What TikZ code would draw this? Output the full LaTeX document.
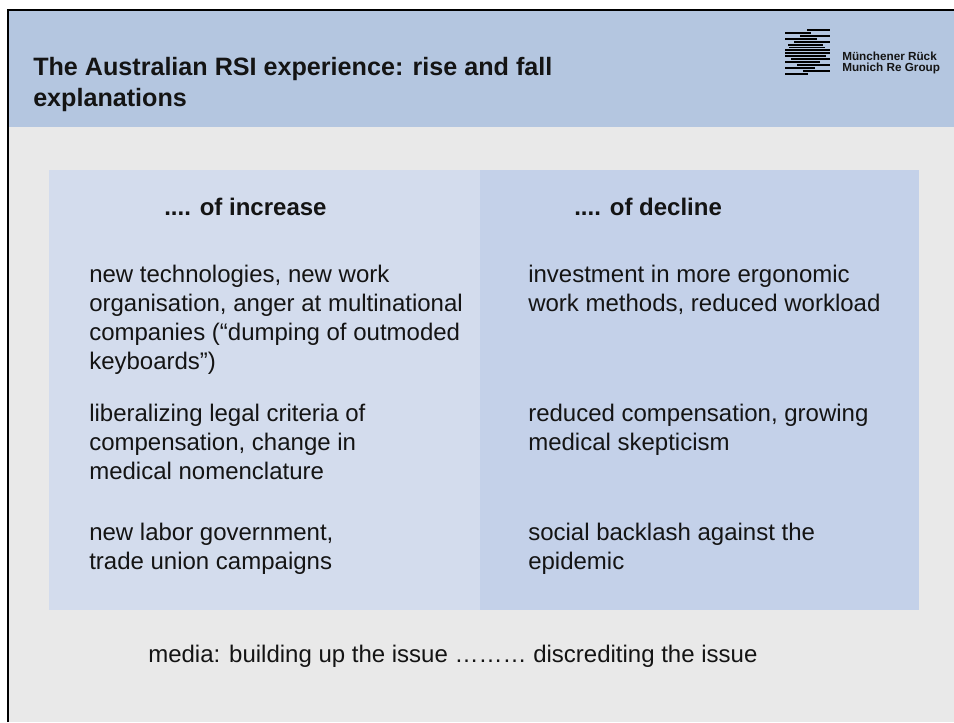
\documentclass[tikz,border=0pt]{standalone}
\usepackage{fontspec}
\setmainfont{Liberation Sans}
\definecolor{slidebg}{HTML}{E9E9E9}
\definecolor{headbg}{HTML}{B4C6E0}
\definecolor{leftbg}{HTML}{D3DCED}
\definecolor{rightbg}{HTML}{C4D1E9}
\definecolor{ink}{HTML}{141414}
\tikzset{
  x=0.75pt,y=-0.75pt,
  body/.style={anchor=base west,inner sep=0pt,text=ink,align=left,font=\fontsize{18}{21.75}\selectfont},
  head/.style={anchor=base west,inner sep=0pt,text=ink,align=left,font=\fontsize{18}{21.75}\selectfont\bfseries},
  titletext/.style={anchor=base west,inner sep=0pt,text=ink,align=left,font=\fontsize{18.85}{23.6}\selectfont\bfseries},
  logotext/.style={anchor=base west,inner sep=0pt,text=ink,align=left,font=\fontsize{8.8}{8}\selectfont\bfseries},
  bar/.style={line width=1.15pt,draw=black}
}
\begin{document}
\begin{tikzpicture}
\useasboundingbox (0,0) rectangle (954,722);
\fill[white] (0,0) rectangle (954,722);
\fill[slidebg] (8,10) rectangle (954,722);
\fill[headbg] (8,10) rectangle (954,127);
\fill[leftbg] (49,170) rectangle (480,610);
\fill[rightbg] (480,170) rectangle (919,610);
\draw[line width=1.9pt,draw=black] (8,722) -- (8,10) -- (954,10);
% logo
\foreach \a/\b/\y in {807/830/30,785/811/33,800/830/36,785/817/39,794/830/42,788/823/45,789/825/47.7,785/830/50,785/830/53,785/826/56,791/830/59,785/820/62,797/830/65,785/815/68,803/830/71,785/808/74}
  \draw[bar] (\a,\y) -- (\b,\y);
\node[logotext] (logo) at (842,71) {Münchener Rück\\Munich Re Group};
\node[titletext] (title) at (33,106.7) {The Australian RSI experience: rise and fall\\explanations};
\node[head] (lh) at (164,215) {.... of increase};
\node[head] (rh) at (574,215) {.... of decline};
\node[body] (l1) at (89,369.7) {new technologies, new work\\organisation, anger at multinational\\companies (“dumping of outmoded\\keyboards”)};
\node[body] (l2) at (89,479.7) {liberalizing legal criteria of\\compensation, change in\\medical nomenclature};
\node[body] (l3) at (89,569.7) {new labor government,\\trade union campaigns};
\node[body] (r1) at (528,311.7) {investment in more ergonomic\\work methods, reduced workload};
\node[body] (r2) at (528,450.7) {reduced compensation, growing\\medical skepticism};
\node[body] (r3) at (528,569.7) {social backlash against the\\epidemic};
\node[body] (media) at (148,662) {media: building up the issue ……… discrediting the issue};
\end{tikzpicture}
\end{document}
